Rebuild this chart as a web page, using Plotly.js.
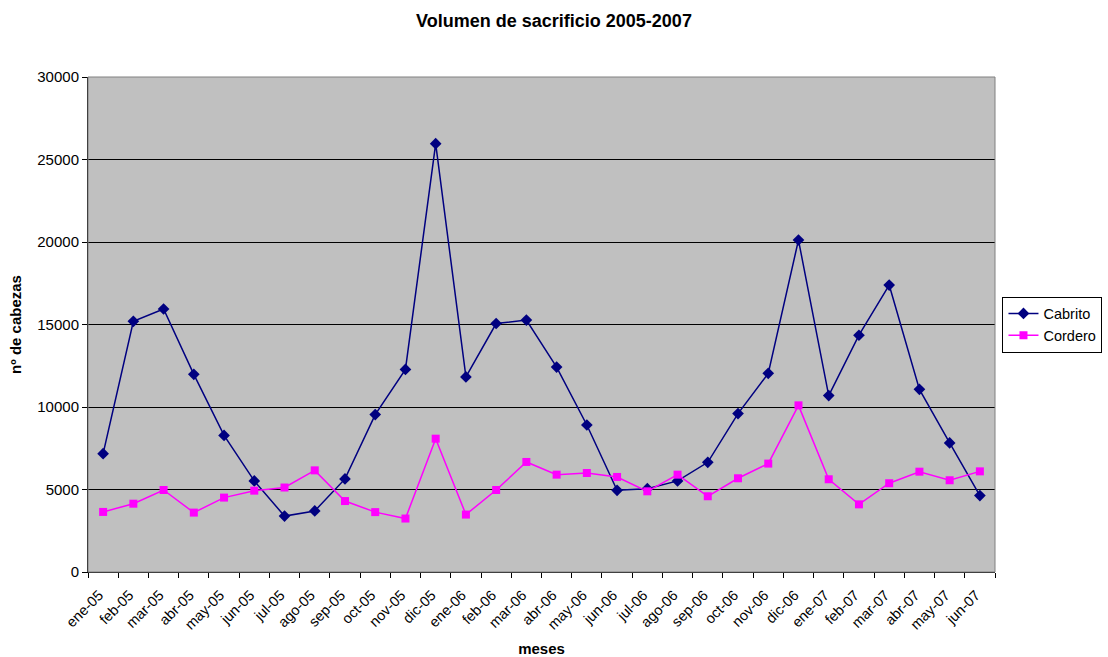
<!DOCTYPE html>
<html>
<head>
<meta charset="utf-8">
<script src="https://cdn.plot.ly/plotly-3.0.1.min.js"></script>
<style>html,body{margin:0;padding:0;background:#fff;}#chart{width:1108px;height:657px;}</style>
</head>
<body>
<div id="chart"></div>
<script>
var months = ["ene-05","feb-05","mar-05","abr-05","may-05","jun-05","jul-05","ago-05","sep-05","oct-05","nov-05","dic-05",
              "ene-06","feb-06","mar-06","abr-06","may-06","jun-06","jul-06","ago-06","sep-06","oct-06","nov-06","dic-06",
              "ene-07","feb-07","mar-07","abr-07","may-07","jun-07"];
var cabrito = [7170,15190,15940,11980,8280,5520,3390,3700,5640,9540,12280,25960,
               11820,15060,15270,12420,8910,4950,5050,5520,6650,9600,12040,20120,
               10690,14350,17390,11070,7820,4630];
var cordero = [3640,4140,4970,3600,4510,4930,5120,6160,4300,3630,3240,8080,
               3480,4970,6670,5900,6000,5760,4890,5900,4590,5680,6570,10100,
               5620,4100,5380,6080,5560,6100];
var yTicks = [0,5000,10000,15000,20000,25000,30000];

var font = {family: "Liberation Sans, Arial, sans-serif", color: "#000"};

var traces = [
  {x: months, y: cabrito, name: "Cabrito", type: "scatter", mode: "lines+markers",
   line: {color: "#000080", width: 1.5}, marker: {symbol: "diamond", size: 9, color: "#000080"}},
  {x: months, y: cordero, name: "Cordero", type: "scatter", mode: "lines+markers",
   line: {color: "#FF00FF", width: 1.5}, marker: {symbol: "square", size: 8, color: "#FF00FF"}}
];

var layout = {
  width: 1108, height: 657,
  margin: {l: 88, r: 113, t: 77, b: 85, autoexpand: false},
  paper_bgcolor: "#fff",
  plot_bgcolor: "#C0C0C0",
  font: Object.assign({size: 15}, font),
  title: {text: "<b>Volumen de sacrificio 2005-2007</b>", x: 0.5, xanchor: "center", y: 0.969, yanchor: "middle",
          font: Object.assign({size: 18}, font)},
  xaxis: {
    type: "category", range: [-0.5, 29.5], autorange: false, tickangle: -45, tickson: "boundaries",
    ticks: "outside", ticklen: 5, tickcolor: "#000", ticklabelstandoff: 8, ticklabelshift: -4,
    showgrid: false, showline: true, linecolor: "#000", linewidth: 1, zeroline: false, automargin: false,
    tickfont: Object.assign({size: 14.5}, font),
    title: {text: "<b>meses</b>", font: Object.assign({size: 15}, font), standoff: 12}
  },
  yaxis: {
    range: [0, 30000], autorange: false, tickvals: yTicks, tickformat: "d", ticks: "outside", ticklen: 5, tickcolor: "#000",
    showgrid: true, gridcolor: "#000", gridwidth: 1, showline: true, linecolor: "#000", linewidth: 1, zeroline: false,
    automargin: false,
    tickfont: Object.assign({size: 15}, font),
    title: {text: "<b>nº de cabezas</b>", font: Object.assign({size: 15}, font), standoff: 12}
  },
  legend: {x: 1.1185, xanchor: "right", y: 0.5, yanchor: "middle", bgcolor: "#fff", bordercolor: "#000", borderwidth: 1,
           font: Object.assign({size: 14.5}, font), tracegroupgap: 0, itemwidth: 30},
  shapes: [{type: "rect", xref: "paper", yref: "paper", x0: 0, x1: 1, y0: 0, y1: 1,
            line: {color: "#808080", width: 1}, fillcolor: "rgba(0,0,0,0)", layer: "above"}],
  showlegend: true
};

Plotly.newPlot("chart", traces, layout, {displayModeBar: false});
</script>
</body>
</html>
